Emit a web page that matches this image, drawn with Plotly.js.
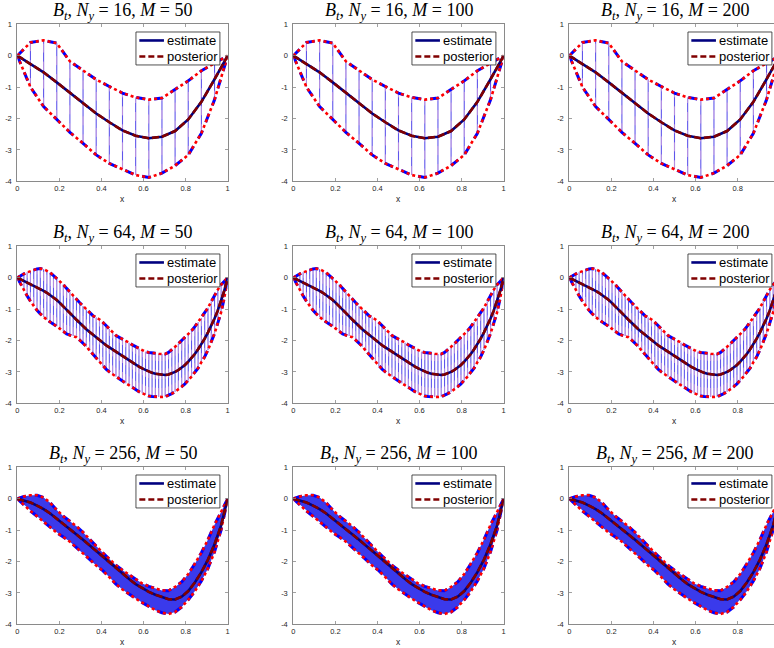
<!DOCTYPE html>
<html><head><meta charset="utf-8">
<script src="https://cdn.plot.ly/plotly-3.0.1.min.js"></script>
<style>html,body{margin:0;padding:0;overflow:hidden;background:#fff;width:774px;height:648px}#chart{width:800px;height:648px}</style>
</head><body><div id="chart"></div>
<script>
const NY_VALUES = [16, 64, 256];
const M_VALUES = [50, 100, 200];
const X_TICKS = [0, 0.2, 0.4, 0.6, 0.8, 1];
const X_TICK_LABELS = ['0', '0.2', '0.4', '0.6', '0.8', '1'];
const Y_TICKS = [-4, -3, -2, -1, 0, 1];
const Y_TICK_LABELS = ['-4', '-3', '-2', '-1', '0', '1'];

// Ny = 16
const X_16 = [0, 0.0625, 0.125, 0.1875, 0.25, 0.3125, 0.375, 0.4375, 0.5, 0.5625, 0.625, 0.6875, 0.75, 0.8125, 0.875, 0.9375, 1];
const MEAN_16 = [0, -0.27, -0.53, -0.85, -1.19, -1.52, -1.84, -2.12, -2.38, -2.55, -2.63, -2.58, -2.40, -2.03, -1.47, -0.75, 0];
const UPPER_16 = [0, 0.42, 0.49, 0.40, -0.18, -0.46, -0.76, -0.98, -1.19, -1.33, -1.40, -1.35, -1.08, -0.80, -0.48, -0.25, 0];
const LOWER_16 = [0, -1.00, -1.62, -2.02, -2.44, -2.79, -3.16, -3.43, -3.62, -3.80, -3.88, -3.74, -3.50, -3.16, -2.47, -1.40, 0];

// Ny = 64
const X_64 = [0, 0.0156, 0.0313, 0.0469, 0.0625, 0.0781, 0.0938, 0.1094, 0.125, 0.1406, 0.1563, 0.1719, 0.1875, 0.2031, 0.2188, 0.2344,
  0.25, 0.2656, 0.2813, 0.2969, 0.3125, 0.3281, 0.3438, 0.3594, 0.375, 0.3906, 0.4063, 0.4219, 0.4375, 0.4531, 0.4688, 0.4844,
  0.5, 0.5156, 0.5313, 0.5469, 0.5625, 0.5781, 0.5938, 0.6094, 0.625, 0.6406, 0.6563, 0.6719, 0.6875, 0.7031, 0.7188, 0.7344,
  0.75, 0.7656, 0.7813, 0.7969, 0.8125, 0.8281, 0.8438, 0.8594, 0.875, 0.8906, 0.9063, 0.9219, 0.9375, 0.9531, 0.9688, 0.9844, 1];
const MEAN_64 = [0, -0.05, -0.10, -0.15, -0.20, -0.26, -0.31, -0.36, -0.42, -0.48, -0.55, -0.62, -0.71, -0.81, -0.91, -1.02,
  -1.13, -1.23, -1.34, -1.45, -1.55, -1.64, -1.73, -1.82, -1.91, -1.99, -2.07, -2.15, -2.22, -2.29, -2.36, -2.43,
  -2.50, -2.57, -2.64, -2.71, -2.77, -2.83, -2.89, -2.94, -2.99, -3.03, -3.06, -3.08, -3.10, -3.10, -3.08, -3.05,
  -3.00, -2.94, -2.87, -2.78, -2.67, -2.56, -2.43, -2.28, -2.12, -1.94, -1.74, -1.53, -1.30, -1.04, -0.74, -0.40, 0];
const UPPER_64 = [0, 0.07, 0.12, 0.17, 0.21, 0.25, 0.28, 0.29, 0.27, 0.22, 0.16, 0.07, -0.02, -0.12, -0.22, -0.34,
  -0.46, -0.58, -0.70, -0.80, -0.90, -1.01, -1.12, -1.21, -1.27, -1.33, -1.42, -1.53, -1.63, -1.74, -1.84, -1.90,
  -1.95, -2.00, -2.07, -2.14, -2.20, -2.26, -2.32, -2.36, -2.38, -2.40, -2.41, -2.42, -2.43, -2.43, -2.38, -2.30,
  -2.20, -2.10, -2.00, -1.90, -1.80, -1.69, -1.56, -1.42, -1.28, -1.12, -0.96, -0.76, -0.55, -0.38, -0.22, -0.10, 0];
const LOWER_64 = [0, -0.21, -0.40, -0.58, -0.75, -0.90, -1.04, -1.15, -1.25, -1.34, -1.41, -1.47, -1.55, -1.63, -1.72, -1.79,
  -1.83, -1.86, -1.90, -1.99, -2.08, -2.19, -2.32, -2.44, -2.57, -2.70, -2.81, -2.91, -3.00, -3.08, -3.15, -3.22,
  -3.29, -3.36, -3.43, -3.50, -3.57, -3.63, -3.68, -3.73, -3.77, -3.78, -3.79, -3.80, -3.80, -3.79, -3.75, -3.69,
  -3.63, -3.56, -3.47, -3.38, -3.27, -3.15, -3.01, -2.88, -2.69, -2.52, -2.30, -2.06, -1.78, -1.44, -1.10, -0.62, 0];

// Ny = 256 (read at 33 positions along the band)
const X_256 = [0, 0.0313, 0.0625, 0.0938, 0.125, 0.1563, 0.1875, 0.2188, 0.25, 0.2813, 0.3125, 0.3438, 0.375, 0.4063, 0.4375, 0.4688,
  0.5, 0.5313, 0.5625, 0.5938, 0.625, 0.6563, 0.6875, 0.7188, 0.75, 0.7813, 0.8125, 0.8438, 0.875, 0.9063, 0.9375, 0.9688, 1];
const MEAN_256 = [0, -0.05, -0.12, -0.22, -0.33, -0.47, -0.63, -0.80, -0.97, -1.14, -1.31, -1.49, -1.68, -1.87, -2.05, -2.22,
  -2.39, -2.56, -2.72, -2.85, -2.97, -3.06, -3.14, -3.20, -3.21, -3.12, -2.94, -2.67, -2.34, -1.94, -1.45, -0.85, 0];
const UPPER_256 = [0, 0.07, 0.11, 0.11, 0.04, -0.13, -0.36, -0.56, -0.72, -0.88, -1.07, -1.30, -1.51, -1.72, -1.93, -2.12,
  -2.28, -2.42, -2.56, -2.70, -2.79, -2.86, -2.92, -2.93, -2.81, -2.65, -2.40, -2.07, -1.72, -1.30, -0.83, -0.42, 0];
const LOWER_256 = [0, -0.20, -0.39, -0.56, -0.74, -0.92, -1.08, -1.22, -1.37, -1.56, -1.73, -1.93, -2.13, -2.29, -2.50, -2.72,
  -2.89, -3.04, -3.18, -3.31, -3.44, -3.55, -3.63, -3.67, -3.61, -3.45, -3.22, -2.95, -2.62, -2.22, -1.69, -0.99, 0];

const ROWS = [
  {x: X_16, mean: MEAN_16, up: UPPER_16, lo: LOWER_16, band: false},
  {x: X_64, mean: MEAN_64, up: UPPER_64, lo: LOWER_64, band: false},
  {x: X_256, mean: MEAN_256, up: UPPER_256, lo: LOWER_256, band: true}
];

// geometry (pixels)
const FIG_W = 800, FIG_H = 648;
const COL_LEFT = [17.3, 293.3, 569.3], AX_W = 210.4;
const ROW_TOP = [24.3, 246.3, 467.3], AX_H = 157;

const NAVY = '#00007f', DARKRED = '#800000';
const POST_DASH = '7px,3px';
const traces = [];
const layout = {
  width: FIG_W, height: FIG_H, margin: {l: 0, r: 0, t: 0, b: 0},
  paper_bgcolor: '#fff', plot_bgcolor: '#fff', showlegend: false,
  shapes: [], annotations: []
};

function vert(xs, lo, up) {
  const vx = [], vy = [];
  for (let i = 0; i < xs.length; i++) { vx.push(xs[i], xs[i], null); vy.push(lo[i], up[i], null); }
  return {vx, vy};
}

let k = 0;
for (let r = 0; r < 3; r++) {
  for (let c = 0; c < 3; c++) {
    k++;
    const sfx = k === 1 ? '' : String(k);
    const xa = 'x' + sfx, ya = 'y' + sfx;
    const d = ROWS[r];
    const base = {xaxis: xa, yaxis: ya, hoverinfo: 'skip', showlegend: false};
    if (d.band) {
      traces.push(Object.assign({}, base, {
        x: d.x.concat(d.x.slice().reverse()), y: d.up.concat(d.lo.slice().reverse()),
        mode: 'lines', fill: 'toself', fillcolor: 'rgb(58,58,235)', line: {width: 0}
      }));
    } else {
      const v = vert(d.x, d.lo, d.up);
      traces.push(Object.assign({}, base, {x: v.vx, y: v.vy, mode: 'lines', line: {color: 'rgb(95,85,235)', width: 1.1}}));
      traces.push(Object.assign({}, base, {x: v.vx, y: v.vy, mode: 'lines', line: {color: 'rgba(255,190,215,0.55)', width: 1, dash: 'dash'}}));
    }
    [d.up, d.lo].forEach(b => traces.push(Object.assign({}, base, {x: d.x, y: b, mode: 'lines', line: {color: '#0000ff', width: 3, dash: 'dash'}})));
    [d.up, d.lo].forEach(b => traces.push(Object.assign({}, base, {x: d.x, y: b, mode: 'lines', line: {color: '#ff0000', width: 2.6, dash: 'dot'}})));
    traces.push(Object.assign({}, base, {x: d.x, y: d.mean, mode: 'lines', line: {color: NAVY, width: 2.6}}));
    traces.push(Object.assign({}, base, {x: d.x, y: d.mean, mode: 'lines', line: {color: DARKRED, width: 2.6, dash: POST_DASH}}));

    const x0 = COL_LEFT[c] / FIG_W, x1 = (COL_LEFT[c] + AX_W) / FIG_W;
    const yTop = 1 - ROW_TOP[r] / FIG_H, yBot = 1 - (ROW_TOP[r] + AX_H) / FIG_H;
    const axCommon = {showgrid: false, zeroline: false, showline: true, linecolor: '#8a8a8a', linewidth: 1,
      mirror: 'ticks', ticks: 'inside', ticklen: 3, tickwidth: 0.8, tickcolor: '#8a8a8a',
      tickfont: {family: 'Liberation Sans, Arial, sans-serif', size: 7.5, color: '#262626'}, fixedrange: true};
    layout['xaxis' + sfx] = Object.assign({}, axCommon, {domain: [x0, x1], range: [0, 1], anchor: ya,
      tickmode: 'array', tickvals: X_TICKS, ticktext: X_TICK_LABELS});
    layout['yaxis' + sfx] = Object.assign({}, axCommon, {domain: [yBot, yTop], range: [-4, 1], anchor: xa,
      tickmode: 'array', tickvals: Y_TICKS, ticktext: Y_TICK_LABELS, ticklabelstandoff: 3});

    const xd = xa + ' domain', yd = ya + ' domain';
    // title
    layout.annotations.push({xref: xd, yref: yd, x: 0.5, y: 1.08,
      xanchor: 'center', yanchor: 'middle', showarrow: false,
      text: '<i>B</i><sub><i>t</i></sub>, <i>N</i><sub><i>y</i></sub> = ' + NY_VALUES[r] + ', <i>M</i> = ' + M_VALUES[c],
      font: {family: 'Liberation Serif, Times New Roman, serif', size: 18, color: '#000'}});
    // x label
    layout.annotations.push({xref: xd, yref: yd, x: 0.5, y: -0.112, xanchor: 'center', yanchor: 'middle', showarrow: false,
      text: 'x', font: {family: 'Liberation Sans, Arial, sans-serif', size: 8.5, color: '#262626'}});
    // legend box
    layout.shapes.push({type: 'rect', xref: xd, yref: yd, x0: 0.564, x1: 0.963, y0: 0.741, y1: 0.951,
      line: {color: '#262626', width: 0.8}, fillcolor: '#fff'});
    layout.shapes.push({type: 'line', xref: xd, yref: yd, x0: 0.580, x1: 0.697, y0: 0.897, y1: 0.897, line: {color: NAVY, width: 2.6}});
    layout.shapes.push({type: 'line', xref: xd, yref: yd, x0: 0.580, x1: 0.697, y0: 0.795, y1: 0.795, line: {color: DARKRED, width: 2.6, dash: '6px,3px'}});
    layout.annotations.push({xref: xd, yref: yd, x: 0.703, y: 0.897, xanchor: 'left', yanchor: 'middle', showarrow: false,
      text: 'estimate', font: {family: 'Liberation Sans, Arial, sans-serif', size: 13, color: '#000'}});
    layout.annotations.push({xref: xd, yref: yd, x: 0.703, y: 0.795, xanchor: 'left', yanchor: 'middle', showarrow: false,
      text: 'posterior', font: {family: 'Liberation Sans, Arial, sans-serif', size: 13, color: '#000'}});
  }
}

Plotly.newPlot('chart', traces, layout, {staticPlot: true, displayModeBar: false});
</script></body></html>
